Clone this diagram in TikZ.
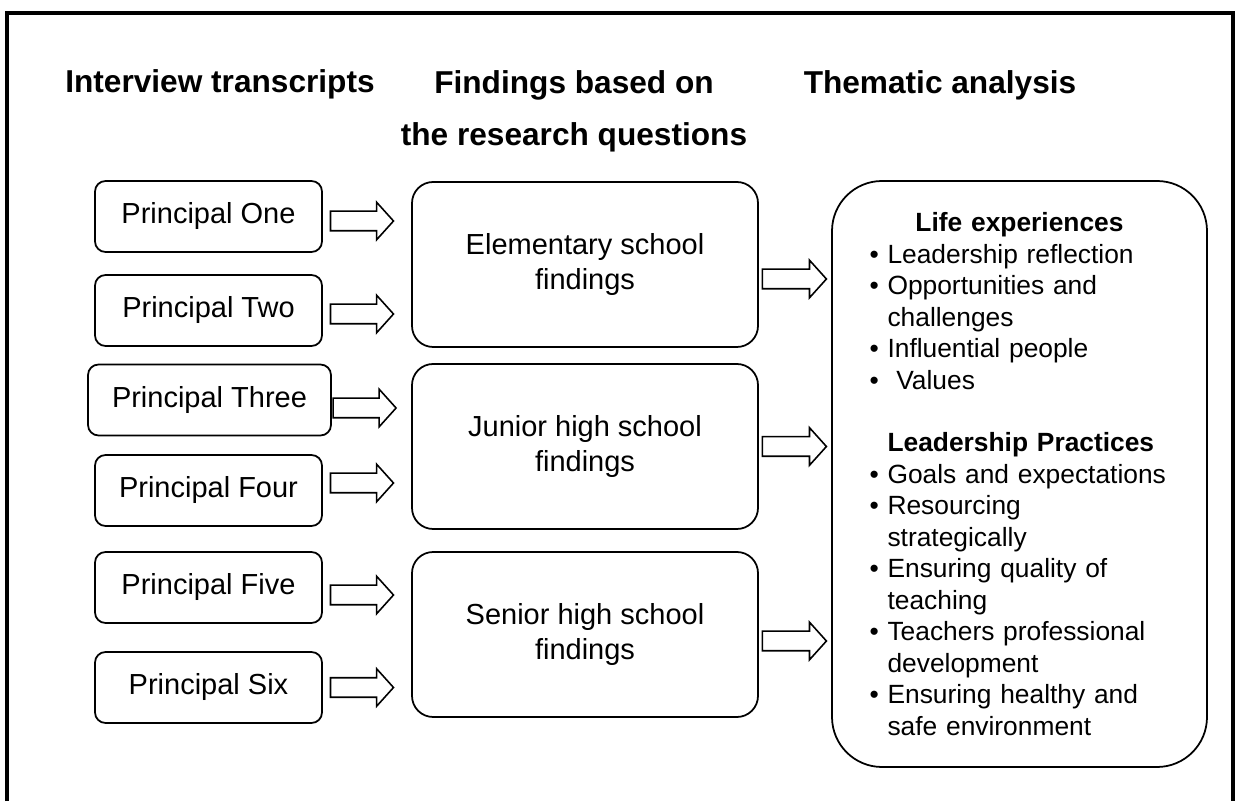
\documentclass[tikz,border=0pt]{standalone}
\usepackage{fontspec}
\setmainfont{Liberation Sans}
\usetikzlibrary{shapes.arrows,positioning}

\newcommand{\bulit}{\textbullet\ }
\newcommand{\bulgap}{\hphantom{\textbullet\ }}

\begin{document}
\begin{tikzpicture}[
    head/.style={font=\fontsize{18}{29.6}\selectfont\bfseries, align=center, inner sep=0pt},
    src/.style={draw, line width=1pt, rounded corners=6pt, minimum width=4.54cm, minimum height=1.42cm, font=\fontsize{16.5}{19.9}\selectfont},
    find/.style={draw, line width=1pt, rounded corners=12pt, minimum width=6.92cm, minimum height=3.3cm, align=center, font=\fontsize{16.5}{19.9}\selectfont},
    theme/.style={draw, line width=1pt, rounded corners=1cm, minimum width=7.5cm, minimum height=11.72cm, text width=6cm, align=left, font=\fontsize{15}{17.9}\selectfont},
    sarr/.style={draw, single arrow, line width=0.9pt, minimum height=1.26cm, single arrow head extend=0.18cm, single arrow tip angle=96, inner xsep=0pt, inner ysep=0.18cm, xshift=-0.1cm},
    barr/.style={sarr, minimum height=1.28cm},
]
\useasboundingbox (0,0) rectangle (24.8,16.02);

% Outer frame (open at the bottom)
\draw[line width=1.8pt] (0.14,0) -- (0.14,15.76) -- (24.66,15.76) -- (24.66,0);

% Column headings
\node[head] (inthd) at (4.4,14.34) {Interview transcripts};
\node[head] (findhd) at (11.48,13.80) {Findings based on\\the research questions};
\node[head] (themhd) at (18.8,14.32) {Thematic analysis};

% Interview transcripts
\node[src] (p1) at (4.17,11.69) {Principal One};
\node[src] (p2) at (4.17,9.81) {Principal Two};
\node[src, minimum width=4.86cm] (p3) at (4.19,8.02) {Principal Three};
\node[src] (p4) at (4.17,6.21) {Principal Four};
\node[src] (p5) at (4.17,4.27) {Principal Five};
\node[src] (p6) at (4.17,2.27) {Principal Six};

% Findings per school level
\node[find] (elem) at (11.7,10.73) {Elementary school\\findings};
\node[find] (junior) at (11.7,7.09) {Junior high school\\findings};
\node[find] (senior) at (11.7,3.33) {Senior high school\\findings};

% Themes
\node[theme] (themes) at (20.39,6.54) {%
\makebox[6cm]{\bfseries Life experiences}\\
\bulit Leadership reflection\\
\bulit Opportunities and\\
\bulgap challenges\\
\bulit Influential people\\
\bulit\ Values\\[0.63cm]
\bulgap\textbf{Leadership Practices}\\
\bulit Goals and expectations\\
\bulit Resourcing\\
\bulgap strategically\\
\bulit Ensuring quality of\\
\bulgap teaching\\
\bulit Teachers professional\\
\bulgap development\\
\bulit Ensuring healthy and\\
\bulgap safe environment};

% Arrows - transcripts to findings
\path (p1.east) -- (p1.east -| elem.west) node[sarr, pos=0.45, yshift=-0.09cm] (a1) {};
\path (p2.east) -- (p2.east -| elem.west) node[sarr, pos=0.45, yshift=-0.07cm] (a2) {};
\path (p3.east) -- (p3.east -| junior.west) node[sarr, pos=0.42, yshift=-0.16cm] (a3) {};
\path (p4.east) -- (p4.east -| junior.west) node[sarr, pos=0.45, yshift=0.15cm] (a4) {};
\path (p5.east) -- (p5.east -| senior.west) node[sarr, pos=0.45, yshift=-0.15cm] (a5) {};
\path (p6.east) -- (p6.east -| senior.west) node[sarr, pos=0.45] (a6) {};

% Arrows - findings to themes
\path (elem.east) -- (elem.east -| themes.west) node[barr, midway, yshift=-0.29cm] (b1) {};
\path (junior.east) -- (junior.east -| themes.west) node[barr, midway] (b2) {};
\path (senior.east) -- (senior.east -| themes.west) node[barr, midway, yshift=-0.13cm] (b3) {};

\end{tikzpicture}
\end{document}
